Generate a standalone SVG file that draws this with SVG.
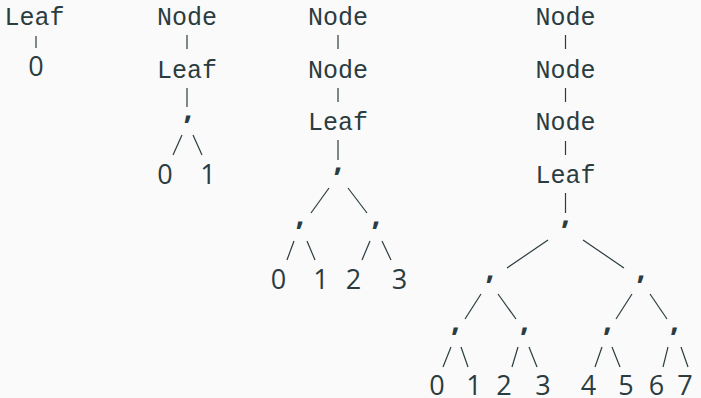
<svg xmlns="http://www.w3.org/2000/svg" width="701" height="398" viewBox="0 0 701 398">
<style>
.m{font-family:"Liberation Mono","DejaVu Sans Mono",monospace;font-size:25px;fill:#2b3c40;text-anchor:middle}
.d{font-family:"Open Sans","Noto Sans",sans-serif;font-size:27px;fill:#2b3c40;text-anchor:middle}
.c{font-family:"Open Sans","Noto Sans",sans-serif;font-size:30px;font-weight:700;fill:#2b3c40;text-anchor:middle}
#edges line{stroke:#2b3c40;stroke-width:1.2;stroke-linecap:butt}
</style>
<rect width="701" height="398" fill="#fafafa"/>
<g id="edges">
<line x1="36" y1="36" x2="36" y2="48"/>
<line x1="187" y1="35" x2="187" y2="49"/>
<line x1="187" y1="88" x2="187" y2="107"/>
<line x1="182" y1="135" x2="173" y2="155"/>
<line x1="193" y1="135" x2="202" y2="155"/>
<line x1="338" y1="35" x2="338" y2="49"/>
<line x1="338" y1="88" x2="338" y2="102"/>
<line x1="338" y1="140" x2="338" y2="160"/>
<line x1="329" y1="188" x2="311" y2="213"/>
<line x1="348" y1="188" x2="367" y2="213"/>
<line x1="294" y1="241" x2="287" y2="260"/>
<line x1="307" y1="241" x2="315" y2="260"/>
<line x1="370" y1="241" x2="362" y2="260"/>
<line x1="382" y1="241" x2="391" y2="260"/>
<line x1="565.5" y1="35" x2="565.5" y2="49"/>
<line x1="565.5" y1="88" x2="565.5" y2="102"/>
<line x1="565.5" y1="141" x2="565.5" y2="155"/>
<line x1="565.5" y1="193" x2="565.5" y2="213"/>
<line x1="548" y1="240" x2="507" y2="268"/>
<line x1="583" y1="240" x2="624" y2="268"/>
<line x1="481" y1="294" x2="465" y2="319"/>
<line x1="498" y1="294" x2="516" y2="319"/>
<line x1="632" y1="294" x2="616" y2="319"/>
<line x1="650" y1="294" x2="667" y2="319"/>
<line x1="451" y1="347" x2="443" y2="367"/>
<line x1="461" y1="347" x2="468" y2="367"/>
<line x1="518" y1="347" x2="512" y2="367"/>
<line x1="529" y1="347" x2="537" y2="367"/>
<line x1="602" y1="347" x2="595" y2="367"/>
<line x1="612" y1="347" x2="620" y2="367"/>
<line x1="668" y1="347" x2="663" y2="367"/>
<line x1="681" y1="347" x2="688" y2="367"/>
</g>
<g id="t1-leaf"><text class="m" x="34.5" y="25">Leaf</text></g>
<g id="t1-0"><text class="d" x="36" y="76">0</text></g>
<g id="t2-node"><text class="m" x="187" y="25">Node</text></g>
<g id="t2-leaf"><text class="m" x="187" y="78">Leaf</text></g>
<g id="t2-pair"><text class="c" x="188" y="119">,</text></g>
<g id="t2-0"><text class="d" x="165" y="184">0</text></g>
<g id="t2-1"><text class="d" x="208" y="184">1</text></g>
<g id="t3-node1"><text class="m" x="338" y="25">Node</text></g>
<g id="t3-node2"><text class="m" x="338" y="78">Node</text></g>
<g id="t3-leaf"><text class="m" x="338" y="130">Leaf</text></g>
<g id="t3-pair"><text class="c" x="338" y="171">,</text></g>
<g id="t3-pairL"><text class="c" x="300" y="225">,</text></g>
<g id="t3-pairR"><text class="c" x="376" y="225">,</text></g>
<g id="t3-0"><text class="d" x="278.5" y="289">0</text></g>
<g id="t3-1"><text class="d" x="321" y="289">1</text></g>
<g id="t3-2"><text class="d" x="353.5" y="289">2</text></g>
<g id="t3-3"><text class="d" x="399.5" y="289">3</text></g>
<g id="t4-node1"><text class="m" x="565.5" y="25">Node</text></g>
<g id="t4-node2"><text class="m" x="565.5" y="78">Node</text></g>
<g id="t4-node3"><text class="m" x="565.5" y="130">Node</text></g>
<g id="t4-leaf"><text class="m" x="565.5" y="183">Leaf</text></g>
<g id="t4-pair"><text class="c" x="565.5" y="224">,</text></g>
<g id="t4-pairL"><text class="c" x="490" y="278.5">,</text></g>
<g id="t4-pairR"><text class="c" x="641" y="278.5">,</text></g>
<g id="t4-pairLL"><text class="c" x="455.5" y="331">,</text></g>
<g id="t4-pairLR"><text class="c" x="524.5" y="331">,</text></g>
<g id="t4-pairRL"><text class="c" x="607.5" y="331">,</text></g>
<g id="t4-pairRR"><text class="c" x="674.5" y="331">,</text></g>
<g id="t4-0"><text class="d" x="437" y="394.5">0</text></g>
<g id="t4-1"><text class="d" x="474" y="394.5">1</text></g>
<g id="t4-2"><text class="d" x="504" y="394.5">2</text></g>
<g id="t4-3"><text class="d" x="543" y="394.5">3</text></g>
<g id="t4-4"><text class="d" x="588.5" y="394.5">4</text></g>
<g id="t4-5"><text class="d" x="626" y="394.5">5</text></g>
<g id="t4-6"><text class="d" x="656.5" y="394.5">6</text></g>
<g id="t4-7"><text class="d" x="685" y="394.5">7</text></g>
</svg>
